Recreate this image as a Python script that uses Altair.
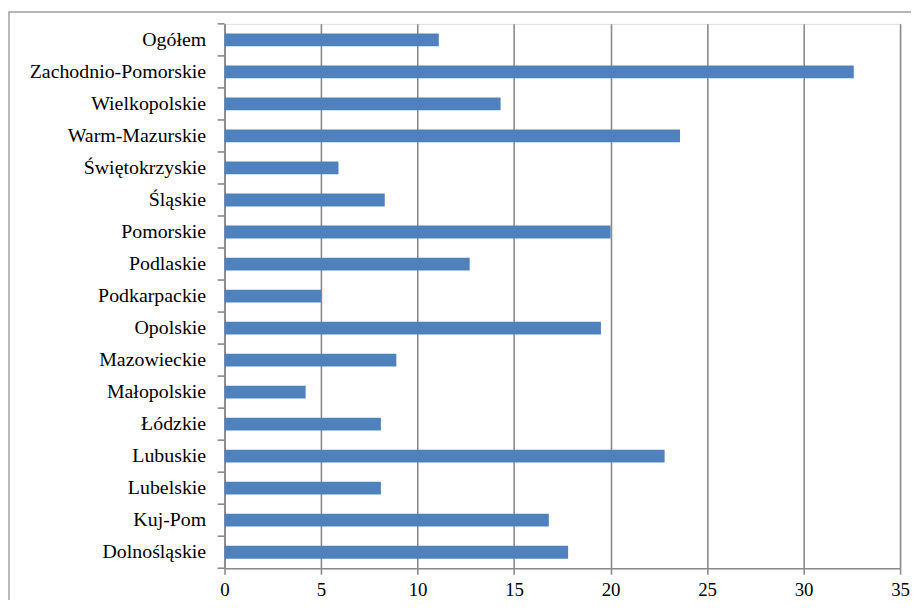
import altair as alt
import pandas as pd

categories = [
    "Ogółem", "Zachodnio-Pomorskie", "Wielkopolskie", "Warm-Mazurskie",
    "Świętokrzyskie", "Śląskie", "Pomorskie", "Podlaskie", "Podkarpackie",
    "Opolskie", "Mazowieckie", "Małopolskie", "Łódzkie", "Lubuskie",
    "Lubelskie", "Kuj-Pom", "Dolnośląskie",
]
values = [11.1, 32.6, 14.3, 23.6, 5.9, 8.3, 20.0, 12.7, 5.0,
          19.5, 8.9, 4.2, 8.1, 22.8, 8.1, 16.8, 17.8]
x_ticks = [0, 5, 10, 15, 20, 25, 30, 35]

df = pd.DataFrame({"region": categories, "value": values})

FONT = "Liberation Serif"
GRAY = "#8a8a8a"
PAD_INNER = 0.6
PAD_OUTER = 0.3
H = 548
STEP = H / len(categories)
HALF_GAP = PAD_INNER * STEP / 2

yscale = alt.Scale(paddingInner=PAD_INNER, paddingOuter=PAD_OUTER)

bars = alt.Chart(df).mark_bar(color="#4F81BD").encode(
    x=alt.X(
        "value:Q",
        scale=alt.Scale(domain=[0, 35], nice=False, zero=True),
        axis=alt.Axis(
            values=x_ticks, title=None, grid=True, gridColor=GRAY, gridWidth=1.6,
            domainColor=GRAY, domainWidth=1.6, tickColor=GRAY, tickWidth=1.6,
            tickSize=6, labelFont=FONT, labelFontSize=19, labelColor="#000000",
            labelPadding=6, labelFlush=False,
        ),
    ),
    y=alt.Y(
        "region:N",
        sort=categories,
        scale=yscale,
        axis=alt.Axis(
            title=None, ticks=False,
            domainColor=GRAY, domainWidth=1.6, labelFont=FONT, labelFontSize=20,
            labelColor="#000000", labelPadding=19, labelLimit=400,
        ),
    ),
)

# tick marks at category boundaries on the y axis
ticks_top = alt.Chart(df).mark_rule(
    color=GRAY, strokeWidth=1.6, yOffset=-HALF_GAP, clip=False
).encode(
    y=alt.Y("region:N", sort=categories, scale=yscale, bandPosition=0),
    x=alt.value(-7), x2=alt.value(0),
)
ticks_bottom = alt.Chart(df).transform_filter(
    alt.datum.region == categories[-1]
).mark_rule(
    color=GRAY, strokeWidth=1.6, yOffset=HALF_GAP, clip=False
).encode(
    y=alt.Y("region:N", sort=categories, scale=yscale, bandPosition=1),
    x=alt.value(-7), x2=alt.value(0),
)

frame = alt.Chart(alt.Data(values=[{"f": 1}])).mark_rect(
    filled=False, stroke="#a0a0a0", strokeWidth=1.5, clip=False
).encode(
    x=alt.value(-217), x2=alt.value(760), y=alt.value(-12), y2=alt.value(700)
)

chart = alt.layer(frame, bars, ticks_top, ticks_bottom).properties(
    width=680, height=H,
    autosize=alt.AutoSizeParams(type="none"),
    padding={"left": 218, "top": 14, "right": 11, "bottom": 30},
).configure_view(stroke=None).configure_axis(
    labelFont=FONT
).configure(background="white")

chart.save("out.html", embed_options={"renderer": "svg", "actions": False})
